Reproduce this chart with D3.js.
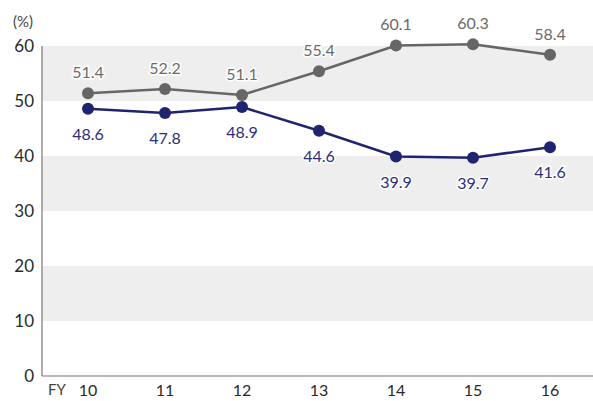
<!DOCTYPE html>
<html><head><meta charset="utf-8">
<script src="https://cdn.jsdelivr.net/npm/d3@7/dist/d3.min.js"></script>
<style>body{margin:0;background:#fff}svg{display:block}</style>
</head><body><svg id="c" width="593" height="401"></svg>
<script>
const categories = ["10","11","12","13","14","15","16"];
const seriesGray = [51.4,52.2,51.1,55.4,60.1,60.3,58.4];
const seriesNavy = [48.6,47.8,48.9,44.6,39.9,39.7,41.6];
const yTicks = [0,10,20,30,40,50,60];
const bands = [[10,20],[30,40],[50,60]];

const svg = d3.select("#c");
const font = "Lato, 'Noto Sans', sans-serif";
const x = d3.scalePoint().domain(categories).range([88,550]);
const y = d3.scaleLinear().domain([0,60]).range([376,46]);
const left = 42, right = 593;

svg.selectAll("rect.band").data(bands).enter().append("rect")
  .attr("x", left).attr("width", right-left)
  .attr("y", d=>y(d[1])).attr("height", d=>y(d[0])-y(d[1]))
  .attr("fill", "#eeeeee");

svg.append("line").attr("x1",left).attr("x2",left).attr("y1",y(60)).attr("y2",y(0)).attr("stroke","#777").attr("stroke-width",1.2);
svg.append("line").attr("x1",left).attr("x2",right).attr("y1",y(0)).attr("y2",y(0)).attr("stroke","#777").attr("stroke-width",1.2);

svg.selectAll("text.yt").data(yTicks).enter().append("text")
  .attr("x", 34).attr("y", d=>y(d)).attr("dy","0.36em").attr("text-anchor","end")
  .attr("font-family",font).attr("font-size",17).attr("fill","#2a2a2a").text(d=>d);

svg.selectAll("text.xt").data(categories).enter().append("text")
  .attr("x", d=>x(d)).attr("y", 396).attr("text-anchor","middle")
  .attr("font-family",font).attr("font-size",16).attr("fill","#2a2a2a").text(d=>d);
svg.append("text").attr("x",57).attr("y",395).attr("text-anchor","middle")
  .attr("font-family",font).attr("font-size",15).attr("fill","#444").text("FY");
svg.append("text").attr("x",23).attr("y",27).attr("text-anchor","middle")
  .attr("font-family",font).attr("font-size",15).attr("fill","#444").text("(%)");

function drawSeries(vals, color, labelColor, dy){
  const line = d3.line().x((d,i)=>x(categories[i])).y(d=>y(d));
  svg.append("path").datum(vals).attr("d",line).attr("fill","none")
    .attr("stroke",color).attr("stroke-width",2.5);
  svg.selectAll(null).data(vals).enter().append("circle")
    .attr("cx",(d,i)=>x(categories[i])).attr("cy",d=>y(d)).attr("r",6).attr("fill",color);
  svg.selectAll(null).data(vals).enter().append("text")
    .attr("x",(d,i)=>x(categories[i])).attr("y",d=>y(d)+dy).attr("text-anchor","middle")
    .attr("font-family",font).attr("font-size",16).attr("fill",labelColor)
    .attr("stroke","#fff").attr("stroke-width",3).attr("paint-order","stroke")
    .text(d=>d.toFixed(1));
}
drawSeries(seriesGray, "#666666", "#6a6a6a", -15);
drawSeries(seriesNavy, "#1f2471", "#2a2e7c", 31);
</script></body></html>
